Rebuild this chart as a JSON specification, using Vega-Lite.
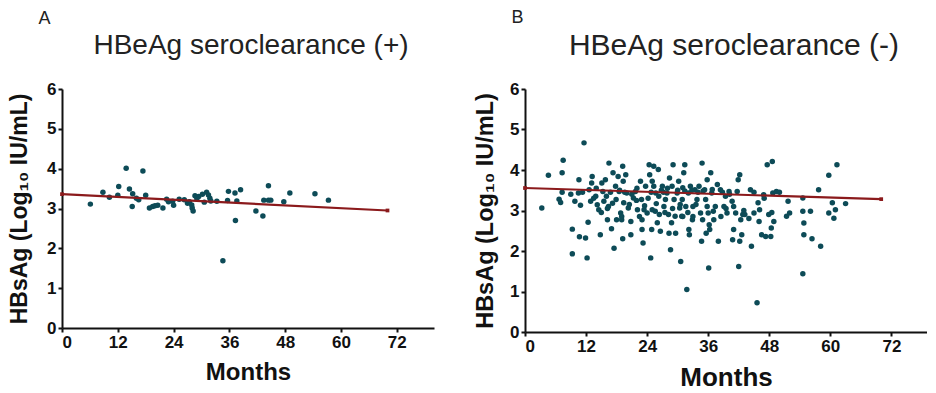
{
  "$schema": "https://vega.github.io/schema/vega-lite/v6.json",
  "background": "white",
  "padding": {"left": 8, "top": 9, "right": 0, "bottom": 0},
  "config": {
    "font": "Liberation Sans",
    "view": {"stroke": null},
    "axis": {"domainColor": "#111", "domainWidth": 2, "tickColor": "#111", "tickWidth": 2, "tickSize": 4, "grid": false, "labelFont": "Liberation Sans", "labelFontWeight": "bold", "labelFontSize": 17, "labelColor": "#111", "titleFont": "Liberation Sans", "titleFontWeight": "bold", "titleColor": "#111", "labelPadding": 2, "labelOverlap": false, "tickCount": 10, "format": "d"},
    "title": {"font": "Liberation Sans", "fontWeight": "normal", "color": "#222"},
    "concat": {"spacing": 39}
  },
  "datasets": {
    "a_pts": [
      {"month": 6.1, "hbsag": 3.11}, {"month": 8.8, "hbsag": 3.41}, {"month": 10.2, "hbsag": 3.28}, {"month": 12.0, "hbsag": 3.33}, {"month": 12.2, "hbsag": 3.55}, {"month": 13.8, "hbsag": 4.01}, {"month": 14.5, "hbsag": 3.49}, {"month": 15.2, "hbsag": 3.37}, {"month": 15.1, "hbsag": 3.05}, {"month": 16.0, "hbsag": 3.26}, {"month": 16.5, "hbsag": 3.22}, {"month": 17.4, "hbsag": 3.94}, {"month": 18.0, "hbsag": 3.33}, {"month": 18.8, "hbsag": 3.01}, {"month": 19.5, "hbsag": 3.05}, {"month": 20.0, "hbsag": 3.07}, {"month": 20.6, "hbsag": 3.08}, {"month": 21.7, "hbsag": 3.01}, {"month": 22.5, "hbsag": 3.23}, {"month": 22.9, "hbsag": 3.17}, {"month": 24.0, "hbsag": 3.08}, {"month": 23.8, "hbsag": 3.18}, {"month": 25.2, "hbsag": 3.23}, {"month": 26.3, "hbsag": 3.22}, {"month": 27.0, "hbsag": 3.13}, {"month": 27.4, "hbsag": 3.17}, {"month": 27.9, "hbsag": 3.09}, {"month": 28.0, "hbsag": 3.01}, {"month": 28.2, "hbsag": 2.94}, {"month": 28.6, "hbsag": 3.32}, {"month": 29.0, "hbsag": 3.25}, {"month": 29.4, "hbsag": 3.30}, {"month": 30.2, "hbsag": 3.36}, {"month": 30.6, "hbsag": 3.16}, {"month": 31.1, "hbsag": 3.41}, {"month": 31.5, "hbsag": 3.34}, {"month": 31.8, "hbsag": 3.26}, {"month": 32.0, "hbsag": 3.19}, {"month": 33.3, "hbsag": 3.18}, {"month": 34.6, "hbsag": 1.69}, {"month": 35.8, "hbsag": 3.43}, {"month": 35.6, "hbsag": 3.20}, {"month": 37.2, "hbsag": 3.39}, {"month": 37.3, "hbsag": 2.70}, {"month": 37.6, "hbsag": 3.19}, {"month": 38.4, "hbsag": 3.47}, {"month": 41.7, "hbsag": 2.94}, {"month": 43.2, "hbsag": 2.81}, {"month": 43.4, "hbsag": 3.21}, {"month": 44.4, "hbsag": 3.57}, {"month": 44.4, "hbsag": 3.21}, {"month": 44.9, "hbsag": 3.21}, {"month": 47.7, "hbsag": 3.17}, {"month": 49.0, "hbsag": 3.39}, {"month": 54.4, "hbsag": 3.37}, {"month": 57.3, "hbsag": 3.21}
    ],
    "a_line": [{"month": 0, "hbsag": 3.36}, {"month": 70, "hbsag": 2.95}],
    "b_line": [{"month": 0, "hbsag": 3.555}, {"month": 70, "hbsag": 3.28}],
    "b_pts": [
      {"month": 3.3, "hbsag": 3.06}, {"month": 4.6, "hbsag": 3.87}, {"month": 6.7, "hbsag": 3.28}, {"month": 7.0, "hbsag": 3.20}, {"month": 7.3, "hbsag": 3.45}, {"month": 7.5, "hbsag": 4.24}, {"month": 7.3, "hbsag": 3.93}, {"month": 9.3, "hbsag": 2.54}, {"month": 9.3, "hbsag": 1.93}, {"month": 9.8, "hbsag": 3.23}, {"month": 10.6, "hbsag": 3.76}, {"month": 10.5, "hbsag": 3.43}, {"month": 10.9, "hbsag": 3.13}, {"month": 10.7, "hbsag": 2.35}, {"month": 11.9, "hbsag": 2.32}, {"month": 11.6, "hbsag": 4.67}, {"month": 12.2, "hbsag": 1.83}, {"month": 12.4, "hbsag": 2.71}, {"month": 12.6, "hbsag": 3.51}, {"month": 12.9, "hbsag": 3.23}, {"month": 13.1, "hbsag": 3.68}, {"month": 13.2, "hbsag": 3.84}, {"month": 13.9, "hbsag": 3.35}, {"month": 14.2, "hbsag": 3.14}, {"month": 14.5, "hbsag": 3.02}, {"month": 14.8, "hbsag": 2.40}, {"month": 15.1, "hbsag": 3.68}, {"month": 15.3, "hbsag": 3.47}, {"month": 15.5, "hbsag": 3.23}, {"month": 15.8, "hbsag": 3.76}, {"month": 16.0, "hbsag": 3.35}, {"month": 16.2, "hbsag": 2.77}, {"month": 16.5, "hbsag": 4.17}, {"month": 16.4, "hbsag": 3.10}, {"month": 17.0, "hbsag": 2.55}, {"month": 17.3, "hbsag": 3.93}, {"month": 17.5, "hbsag": 2.07}, {"month": 17.8, "hbsag": 3.60}, {"month": 17.9, "hbsag": 3.27}, {"month": 18.0, "hbsag": 2.77}, {"month": 18.3, "hbsag": 3.84}, {"month": 18.5, "hbsag": 3.47}, {"month": 18.8, "hbsag": 2.94}, {"month": 19.0, "hbsag": 2.77}, {"month": 19.2, "hbsag": 4.09}, {"month": 19.3, "hbsag": 3.72}, {"month": 19.4, "hbsag": 3.19}, {"month": 19.2, "hbsag": 2.30}, {"month": 19.8, "hbsag": 3.88}, {"month": 20.0, "hbsag": 3.43}, {"month": 20.3, "hbsag": 3.06}, {"month": 20.8, "hbsag": 2.73}, {"month": 20.8, "hbsag": 2.40}, {"month": 21.3, "hbsag": 3.31}, {"month": 21.7, "hbsag": 3.47}, {"month": 22.1, "hbsag": 3.02}, {"month": 22.7, "hbsag": 3.72}, {"month": 22.9, "hbsag": 3.27}, {"month": 23.0, "hbsag": 2.77}, {"month": 23.2, "hbsag": 2.20}, {"month": 23.0, "hbsag": 2.53}, {"month": 23.4, "hbsag": 3.02}, {"month": 23.7, "hbsag": 3.60}, {"month": 24.0, "hbsag": 2.94}, {"month": 24.4, "hbsag": 4.13}, {"month": 24.5, "hbsag": 3.88}, {"month": 24.7, "hbsag": 1.83}, {"month": 24.9, "hbsag": 2.53}, {"month": 25.0, "hbsag": 3.72}, {"month": 25.0, "hbsag": 3.02}, {"month": 25.3, "hbsag": 4.09}, {"month": 25.3, "hbsag": 3.60}, {"month": 25.7, "hbsag": 3.43}, {"month": 25.8, "hbsag": 3.17}, {"month": 26.2, "hbsag": 4.01}, {"month": 26.3, "hbsag": 3.35}, {"month": 26.4, "hbsag": 2.90}, {"month": 26.6, "hbsag": 2.49}, {"month": 27.0, "hbsag": 3.60}, {"month": 27.3, "hbsag": 3.10}, {"month": 27.6, "hbsag": 3.27}, {"month": 27.9, "hbsag": 3.43}, {"month": 28.2, "hbsag": 2.90}, {"month": 28.3, "hbsag": 2.44}, {"month": 28.4, "hbsag": 3.80}, {"month": 28.6, "hbsag": 2.03}, {"month": 28.9, "hbsag": 3.60}, {"month": 29.1, "hbsag": 4.13}, {"month": 29.3, "hbsag": 3.27}, {"month": 29.5, "hbsag": 2.86}, {"month": 29.6, "hbsag": 2.44}, {"month": 29.9, "hbsag": 3.43}, {"month": 30.2, "hbsag": 3.72}, {"month": 30.4, "hbsag": 3.06}, {"month": 30.6, "hbsag": 1.74}, {"month": 30.8, "hbsag": 2.86}, {"month": 30.9, "hbsag": 3.27}, {"month": 31.0, "hbsag": 3.56}, {"month": 31.2, "hbsag": 3.93}, {"month": 31.4, "hbsag": 4.13}, {"month": 31.6, "hbsag": 3.10}, {"month": 31.8, "hbsag": 1.05}, {"month": 32.1, "hbsag": 3.43}, {"month": 32.2, "hbsag": 2.53}, {"month": 32.3, "hbsag": 2.40}, {"month": 32.5, "hbsag": 3.60}, {"month": 32.9, "hbsag": 2.77}, {"month": 33.0, "hbsag": 3.10}, {"month": 33.4, "hbsag": 3.51}, {"month": 33.8, "hbsag": 3.27}, {"month": 34.2, "hbsag": 3.60}, {"month": 34.5, "hbsag": 2.94}, {"month": 34.7, "hbsag": 2.24}, {"month": 34.8, "hbsag": 4.17}, {"month": 34.9, "hbsag": 2.77}, {"month": 35.3, "hbsag": 3.51}, {"month": 35.5, "hbsag": 3.27}, {"month": 35.6, "hbsag": 2.44}, {"month": 35.8, "hbsag": 3.76}, {"month": 36.0, "hbsag": 2.94}, {"month": 36.1, "hbsag": 1.58}, {"month": 36.3, "hbsag": 2.53}, {"month": 36.5, "hbsag": 3.93}, {"month": 36.7, "hbsag": 3.43}, {"month": 37.1, "hbsag": 2.77}, {"month": 37.4, "hbsag": 3.10}, {"month": 37.8, "hbsag": 3.64}, {"month": 38.0, "hbsag": 2.24}, {"month": 38.4, "hbsag": 3.51}, {"month": 39.1, "hbsag": 3.10}, {"month": 39.4, "hbsag": 3.35}, {"month": 39.7, "hbsag": 2.94}, {"month": 40.1, "hbsag": 3.47}, {"month": 40.7, "hbsag": 3.23}, {"month": 40.8, "hbsag": 2.28}, {"month": 41.0, "hbsag": 2.53}, {"month": 41.4, "hbsag": 2.94}, {"month": 41.7, "hbsag": 3.47}, {"month": 41.9, "hbsag": 3.76}, {"month": 42.0, "hbsag": 1.62}, {"month": 42.2, "hbsag": 3.88}, {"month": 42.4, "hbsag": 2.77}, {"month": 42.2, "hbsag": 2.24}, {"month": 42.6, "hbsag": 2.40}, {"month": 42.8, "hbsag": 2.90}, {"month": 43.2, "hbsag": 2.90}, {"month": 44.3, "hbsag": 3.51}, {"month": 44.5, "hbsag": 2.12}, {"month": 45.0, "hbsag": 2.94}, {"month": 45.6, "hbsag": 0.72}, {"month": 45.8, "hbsag": 3.19}, {"month": 46.0, "hbsag": 2.73}, {"month": 46.1, "hbsag": 3.02}, {"month": 46.5, "hbsag": 2.40}, {"month": 46.9, "hbsag": 3.39}, {"month": 47.3, "hbsag": 2.36}, {"month": 47.6, "hbsag": 4.13}, {"month": 47.9, "hbsag": 2.90}, {"month": 48.3, "hbsag": 2.36}, {"month": 48.6, "hbsag": 4.21}, {"month": 48.4, "hbsag": 2.57}, {"month": 48.7, "hbsag": 3.43}, {"month": 48.9, "hbsag": 2.73}, {"month": 49.4, "hbsag": 3.47}, {"month": 51.4, "hbsag": 2.86}, {"month": 51.7, "hbsag": 3.23}, {"month": 52.0, "hbsag": 2.94}, {"month": 54.6, "hbsag": 3.31}, {"month": 54.6, "hbsag": 2.98}, {"month": 54.8, "hbsag": 2.69}, {"month": 54.8, "hbsag": 2.40}, {"month": 54.6, "hbsag": 1.44}, {"month": 56.1, "hbsag": 2.98}, {"month": 56.4, "hbsag": 2.30}, {"month": 57.7, "hbsag": 3.51}, {"month": 58.1, "hbsag": 2.12}, {"month": 59.7, "hbsag": 3.87}, {"month": 59.7, "hbsag": 2.94}, {"month": 60.4, "hbsag": 3.19}, {"month": 60.7, "hbsag": 2.81}, {"month": 61.0, "hbsag": 3.02}, {"month": 61.3, "hbsag": 4.13}, {"month": 63.0, "hbsag": 3.17},
      {"month": 14.0, "hbsag": 3.55}, {"month": 16.8, "hbsag": 3.45}, {"month": 18.6, "hbsag": 3.50}, {"month": 19.6, "hbsag": 3.45}, {"month": 21.0, "hbsag": 3.40}, {"month": 22.0, "hbsag": 3.55}, {"month": 24.8, "hbsag": 3.45}, {"month": 26.8, "hbsag": 3.50}, {"month": 27.2, "hbsag": 3.45}, {"month": 28.0, "hbsag": 3.55}, {"month": 30.0, "hbsag": 3.50}, {"month": 31.4, "hbsag": 3.48}, {"month": 32.8, "hbsag": 3.50}, {"month": 34.0, "hbsag": 3.45}, {"month": 35.0, "hbsag": 3.48}, {"month": 36.8, "hbsag": 3.52}, {"month": 38.8, "hbsag": 3.45}, {"month": 40.2, "hbsag": 3.40}, {"month": 16.2, "hbsag": 3.05}, {"month": 17.2, "hbsag": 3.18}, {"month": 20.5, "hbsag": 3.15}, {"month": 21.9, "hbsag": 3.25}, {"month": 23.5, "hbsag": 3.12}, {"month": 25.6, "hbsag": 2.98}, {"month": 27.5, "hbsag": 2.95}, {"month": 29.0, "hbsag": 3.05}, {"month": 30.5, "hbsag": 3.15}, {"month": 32.0, "hbsag": 2.95}, {"month": 33.6, "hbsag": 3.15}, {"month": 35.8, "hbsag": 3.10}, {"month": 37.0, "hbsag": 2.98}, {"month": 38.5, "hbsag": 2.85}, {"month": 39.5, "hbsag": 3.05}, {"month": 41.0, "hbsag": 3.10}, {"month": 43.0, "hbsag": 3.00}, {"month": 44.0, "hbsag": 2.80}, {"month": 15.0, "hbsag": 2.95}, {"month": 19.0, "hbsag": 2.85}, {"month": 22.5, "hbsag": 2.85}, {"month": 26.0, "hbsag": 2.70}, {"month": 28.8, "hbsag": 2.70}, {"month": 31.0, "hbsag": 2.85}, {"month": 33.0, "hbsag": 2.85}, {"month": 36.2, "hbsag": 2.65}, {"month": 13.5, "hbsag": 3.30}, {"month": 11.3, "hbsag": 3.45}, {"month": 9.0, "hbsag": 3.40}, {"month": 24.2, "hbsag": 3.30}, {"month": 47.0, "hbsag": 3.30}, {"month": 48.5, "hbsag": 2.95}, {"month": 50.0, "hbsag": 3.45}, {"month": 45.0, "hbsag": 3.45}
    ]
  },
  "hconcat": [
    {
      "title": {"text": "A", "anchor": "start", "fontSize": 18, "dx": 30, "offset": 4, "color": "#222"},
      "vconcat": [
        {
          "title": {"text": "HBeAg seroclearance (+)", "fontSize": 28, "offset": 20, "frame": "group", "dx": 3},
          "width": 372,
          "height": 239,
          "layer": [
            {
              "data": {"name": "a_pts"},
              "mark": {"type": "circle", "size": 30, "color": "#0d4b57", "opacity": 1},
              "encoding": {
                "x": {"field": "month", "type": "quantitative", "scale": {"domain": [0, 80], "nice": false}, "axis": {"values": [0, 12, 24, 36, 48, 60, 72], "tickCount": 10, "format": "d", "title": "Months", "titleFontSize": 24, "titlePadding": 10}},
                "y": {"field": "hbsag", "type": "quantitative", "scale": {"domain": [0, 6], "nice": false}, "axis": {"values": [0, 1, 2, 3, 4, 5, 6], "tickCount": 10, "format": "d", "title": "HBsAg (Log₁₀ IU/mL)", "titleFontSize": 23, "titlePadding": 15}}
              }
            },
            {
              "data": {"name": "a_line"},
              "mark": {"type": "line", "color": "#8b1a1c", "strokeWidth": 2.2, "point": {"filled": true, "shape": "square", "size": 14, "color": "#8b1a1c"}},
              "encoding": {
                "x": {"field": "month", "type": "quantitative"},
                "y": {"field": "hbsag", "type": "quantitative"}
              }
            }
          ]
        }
      ]
    },
    {
      "title": {"text": "B", "anchor": "start", "fontSize": 18, "dx": 38, "offset": 4, "color": "#222"},
      "vconcat": [
        {
          "title": {"text": "HBeAg seroclearance (-)", "fontSize": 30, "offset": 19, "frame": "group", "dx": 8},
          "width": 402,
          "height": 243,
          "layer": [
            {
              "data": {"name": "b_pts"},
              "mark": {"type": "circle", "size": 30, "color": "#0d4b57", "opacity": 1},
              "encoding": {
                "x": {"field": "month", "type": "quantitative", "scale": {"domain": [0, 79], "nice": false}, "axis": {"values": [0, 12, 24, 36, 48, 60, 72], "tickCount": 10, "format": "d", "title": "Months", "titleFontSize": 26, "titlePadding": 10}},
                "y": {"field": "hbsag", "type": "quantitative", "scale": {"domain": [0, 6], "nice": false}, "axis": {"values": [0, 1, 2, 3, 4, 5, 6], "tickCount": 10, "format": "d", "title": "HBsAg (Log₁₀ IU/mL)", "titleFontSize": 23.5, "titlePadding": 12}}
              }
            },
            {
              "data": {"name": "b_line"},
              "mark": {"type": "line", "color": "#8b1a1c", "strokeWidth": 2.2, "point": {"filled": true, "shape": "square", "size": 14, "color": "#8b1a1c"}},
              "encoding": {
                "x": {"field": "month", "type": "quantitative"},
                "y": {"field": "hbsag", "type": "quantitative"}
              }
            }
          ]
        }
      ]
    }
  ]
}
